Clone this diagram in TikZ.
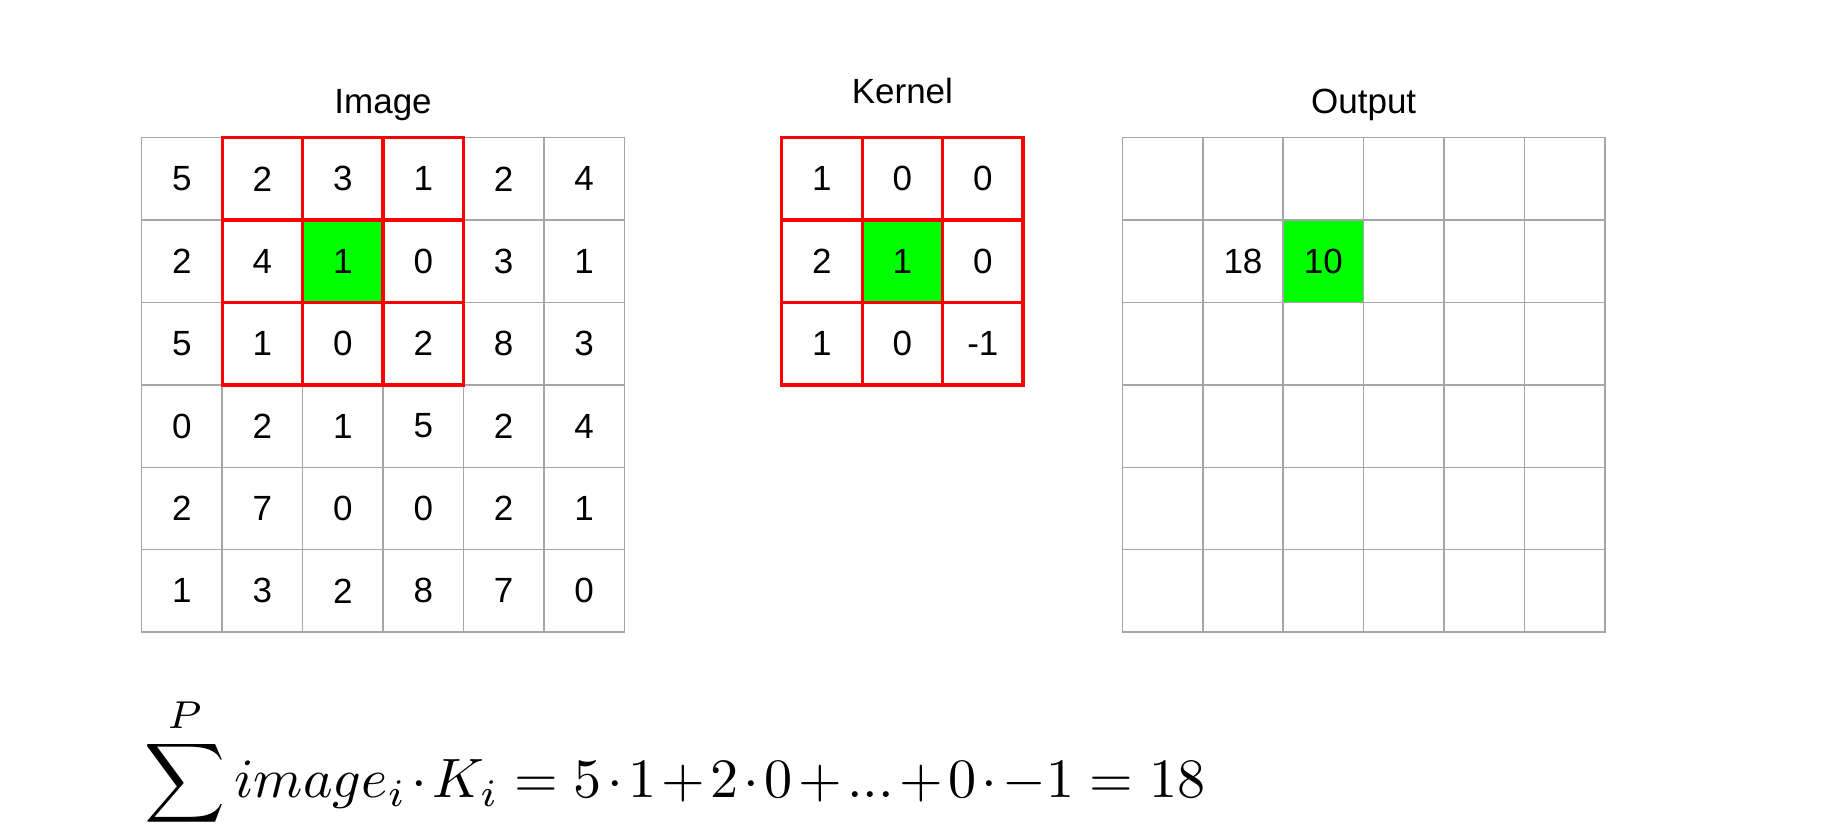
\documentclass[tikz,border=0pt]{standalone}
\usepackage[no-math]{fontspec}
\newfontfamily\arial{Liberation Sans}
\usepackage{graphicx}
\definecolor{gridgray}{HTML}{A6A6A6}
\definecolor{kred}{HTML}{FF0000}
\definecolor{kgreen}{HTML}{00FF00}
\begin{document}
\begin{tikzpicture}[x=1pt,y=-1pt,
  gridline/.style={draw=gridgray,line width=1.5pt,line cap=rect},
  redline/.style={draw=kred,line width=3.3pt,line cap=rect},
  num/.style={font=\arial\fontsize{35}{42}\selectfont,inner sep=0pt},
  title/.style={font=\arial\fontsize{35}{42}\selectfont,inner sep=0pt,anchor=base}]
\def\cw{80.45}
\def\ch{82.4}
\useasboundingbox (0,0) rectangle (1822,835);
% ---------------- Image ----------------
\begin{scope}[shift={(141.7,137.7)}]
  \fill[kgreen] (2*\cw,\ch) rectangle (3*\cw,2*\ch);
  \foreach \i in {0,...,6} {
    \draw[gridline] (\i*\cw,0) -- (\i*\cw,6*\ch);
    \draw[gridline] (0,\i*\ch) -- (6*\cw,\i*\ch);
  }
  \foreach \i in {1,...,4} \draw[redline] (\i*\cw,0) -- (\i*\cw,3*\ch);
  \foreach \j in {0,...,3} \draw[redline] (\cw,\j*\ch) -- (4*\cw,\j*\ch);
  \foreach \row [count=\r from 0] in {{5,2,3,1,2,4},{2,4,1,0,3,1},{5,1,0,2,8,3},{0,2,1,5,2,4},{2,7,0,0,2,1},{1,3,2,8,7,0}}
    \foreach \v [count=\c from 0] in \row
      \node[num] (img-\r-\c) at ({(\c+0.5)*\cw},{(\r+0.5)*\ch}) {\v};
  \node[title] (imgtitle) at (3*\cw,-24.4) {Image};
\end{scope}
% ---------------- Kernel ----------------
\begin{scope}[shift={(781.7,137.7)}]
  \fill[kgreen] (\cw,\ch) rectangle (2*\cw,2*\ch);
  \foreach \i in {0,...,3} {
    \draw[redline] (\i*\cw,0) -- (\i*\cw,3*\ch);
    \draw[redline] (0,\i*\ch) -- (3*\cw,\i*\ch);
  }
  \foreach \row [count=\r from 0] in {{1,0,0},{2,1,0},{1,0,-1}}
    \foreach \v [count=\c from 0] in \row
      \node[num] (ker-\r-\c) at ({(\c+0.5)*\cw},{(\r+0.5)*\ch}) {\v};
  \node[title] (kertitle) at (1.5*\cw,-34.4) {Kernel};
\end{scope}
% ---------------- Output ----------------
\begin{scope}[shift={(1122.3,137.7)}]
  \fill[kgreen] (2*\cw,\ch) rectangle (3*\cw,2*\ch);
  \foreach \i in {0,...,6} {
    \draw[gridline] (\i*\cw,0) -- (\i*\cw,6*\ch);
    \draw[gridline] (0,\i*\ch) -- (6*\cw,\i*\ch);
  }
  \node[num] (out-1-1) at (1.5*\cw,1.5*\ch) {18};
  \node[num] (out-1-2) at (2.5*\cw,1.5*\ch) {10};
  \node[title] (outtitle) at (3*\cw,-24.4) {Output};
\end{scope}
% ---------------- Formula ----------------
\node[anchor=north west,inner sep=0pt] (formula) at (144,696)
  {\resizebox*{1061pt}{132pt}{$\medmuskip=1.7mu\displaystyle\sum^P image_i\cdot K_i=5\cdot1+2\cdot0+...+0\cdot-1=18$}};
\end{tikzpicture}
\end{document}
